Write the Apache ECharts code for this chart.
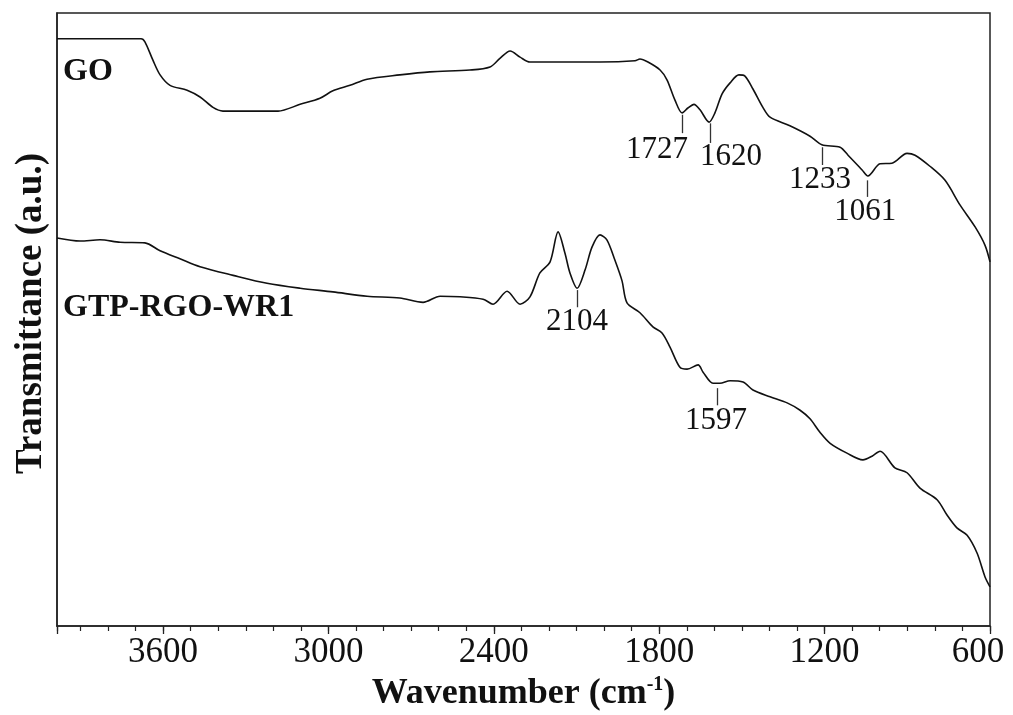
<!DOCTYPE html>
<html>
<head>
<meta charset="utf-8">
<script src="https://cdn.jsdelivr.net/npm/echarts@6/dist/echarts.min.js"></script>
<style>
html,body{margin:0;padding:0;background:#fff;}
#chart{width:1013px;height:715px;}
</style>
</head>
<body>
<div id="chart"></div>
<script>
// Wavenumber (cm-1) and transmittance (a.u.)
const goWavenumber = [3985,3680,3666,3637,3611,3575,3513,3466,3419,3383,3183,3103,3031,2984,2922,2860,2741,2632,2487,2414,2378,2341,2305,2269,2160,2015,1888,1870,1841,1797,1772,1743,1717,1696,1674,1652,1619,1598,1572,1543,1511,1489,1460,1424,1398,1326,1253,1210,1144,1115,1064,1043,999,956,901,872,818,763,709,654,618,600];
const goValues = [95.8,95.8,95.3,92.3,89.9,88.2,87.4,86.3,84.6,84.0,84.0,85.1,86.1,87.3,88.2,89.2,89.9,90.4,90.7,91.2,92.6,93.8,92.8,92.0,92.0,92.0,92.2,92.5,92.0,90.7,89.1,85.8,83.7,84.5,85.1,84.2,82.2,83.7,86.8,88.6,89.9,89.7,87.6,84.6,83.0,81.6,79.9,78.5,78.1,76.8,74.4,73.4,75.4,75.5,77.1,76.8,75.0,72.7,68.7,65.1,62.1,59.4];

const gtpWavenumber = [3985,3901,3829,3756,3666,3611,3539,3466,3346,3223,3103,2984,2860,2741,2657,2595,2523,2439,2403,2352,2305,2269,2233,2196,2167,2142,2124,2098,2069,2044,2015,1990,1961,1935,1917,1870,1823,1790,1761,1725,1699,1659,1641,1605,1580,1543,1496,1460,1398,1336,1289,1253,1217,1180,1119,1061,1028,999,945,901,854,792,756,720,683,647,618,600];
const gtpValues = [63.3,62.8,63.0,62.6,62.5,61.2,59.9,58.6,57.2,55.9,55.1,54.5,53.8,53.5,52.8,53.8,53.7,53.3,52.5,54.6,52.5,53.7,57.6,59.4,64.3,60.8,57.6,55.1,58.1,61.8,63.8,63.0,59.7,56.3,52.7,51.1,48.8,47.8,45.5,42.2,41.9,42.6,41.4,39.6,39.6,40.0,39.8,38.5,37.4,36.4,35.2,33.8,31.6,29.8,28.2,27.1,27.7,28.5,25.8,25.0,22.5,20.6,18.1,16.0,14.8,11.9,8.0,6.4];

// Peak annotations: text, tick position (wavenumber), tick top/bottom, label position
const peakText = ['1727','1620','1233','1061','2104','1597'];
const peakTickX = [1717,1616,1210,1046,2098,1590];
const peakTickTop = [83.4,82.0,78.1,72.7,54.8,38.8];
const peakTickBottom = [80.4,78.8,75.2,70.0,52.0,36.0];
const peakLabelX = [1808,1540,1217,1053,2098,1594];
const peakLabelY = [77.6,76.5,72.7,67.5,49.6,33.4];

const seriesNames = ['GO','GTP-RGO-WR1'];
const seriesNameX = [3963,3963];
const seriesNameY = [90.4,52.0];

const FONT = '"Liberation Serif","Times New Roman",serif';
const INK = '#111';

const chart = echarts.init(document.getElementById('chart'), null, {renderer:'canvas'});

const toPairs = (xs, ys) => xs.map((x, i) => [x, ys[i]]);

const tickLines = peakTickX.map((x, i) => [
  {coord: [x, peakTickTop[i]]},
  {coord: [x, peakTickBottom[i]]}
]);

const option = {
  animation: false,
  backgroundColor: '#fff',
  grid: {left: 57, right: 23, top: 13, bottom: 89, show: true, borderColor: '#222', borderWidth: 1.5, backgroundColor: 'transparent', containLabel: false, outerBoundsMode: 'none'},
  xAxis: [
    {
      type: 'value', inverse: true, min: 600, max: 3985, interval: 100,
      position: 'bottom',
      axisLine: {show: true, onZero: false, lineStyle: {color: '#222', width: 1.5}},
      axisTick: {show: true, inside: false, length: 5, lineStyle: {color: '#222', width: 1.2}},
      splitLine: {show: false},
      axisLabel: {
        show: true, margin: 9, fontSize: 35, fontFamily: FONT, color: INK,
        formatter: v => (v % 600 !== 0 ? '' : (v === 600 ? '{e|' + v + '}' : String(v))),
        rich: {
          e: {fontSize: 35, fontFamily: FONT, color: INK, padding: [0, 24, 0, 0]}
        }
      },
      name: '{b|Wavenumber (cm}{s|-1}{b|)}',
      nameLocation: 'middle', nameGap: 47,
      nameTextStyle: {
        rich: {
          b: {fontSize: 36, fontWeight: 'bold', fontFamily: FONT, color: INK, lineHeight: 38},
          s: {fontSize: 20, fontWeight: 'bold', fontFamily: FONT, color: INK, verticalAlign: 'top', lineHeight: 20}
        }
      }
    },
    {
      type: 'value', inverse: true, min: 600, max: 3985, interval: 600,
      position: 'bottom',
      axisLine: {show: false, onZero: false},
      axisTick: {show: true, length: 8, lineStyle: {color: '#222', width: 1.3}},
      axisLabel: {show: false},
      splitLine: {show: false}
    }
  ],
  yAxis: {
    type: 'value', min: 0, max: 100,
    axisLine: {show: true, onZero: false, lineStyle: {color: '#222', width: 1.5}},
    axisTick: {show: false},
    axisLabel: {show: false},
    splitLine: {show: false},
    name: 'Transmittance (a.u.)',
    nameLocation: 'middle', nameGap: 7,
    nameTextStyle: {fontSize: 37, fontWeight: 'bold', fontFamily: FONT, color: INK, padding: [0, 0, 0, 12]}
  },
  series: [
    {
      name: 'GO', type: 'line', xAxisIndex: 0, data: toPairs(goWavenumber, goValues),
      showSymbol: false, symbol: 'none', smooth: 0.3,
      lineStyle: {color: INK, width: 1.6},
      markLine: {
        silent: true, symbol: ['none','none'], animation: false,
        label: {show: false},
        lineStyle: {color: '#333', width: 1.3, type: 'solid'},
        data: tickLines
      }
    },
    {
      name: 'GTP-RGO-WR1', type: 'line', xAxisIndex: 0, data: toPairs(gtpWavenumber, gtpValues),
      showSymbol: false, symbol: 'none', smooth: 0.3,
      lineStyle: {color: INK, width: 1.6}
    },
    {
      type: 'scatter', xAxisIndex: 0, symbolSize: 0, silent: true,
      itemStyle: {opacity: 1},
      data: peakText.map((t, i) => ({name: t, value: [peakLabelX[i], peakLabelY[i]]})),
      label: {show: true, position: 'inside', formatter: p => p.name, fontSize: 31, fontFamily: FONT, color: INK, opacity: 1}
    },
    {
      type: 'scatter', xAxisIndex: 0, symbolSize: 0, silent: true,
      itemStyle: {opacity: 1},
      data: seriesNames.map((t, i) => ({name: t, value: [seriesNameX[i], seriesNameY[i]]})),
      label: {show: true, position: 'right', distance: 0, formatter: p => p.name, fontSize: 32, fontWeight: 'bold', fontFamily: FONT, color: INK, opacity: 1}
    }
  ]
};
chart.setOption(option);
</script>
</body>
</html>
